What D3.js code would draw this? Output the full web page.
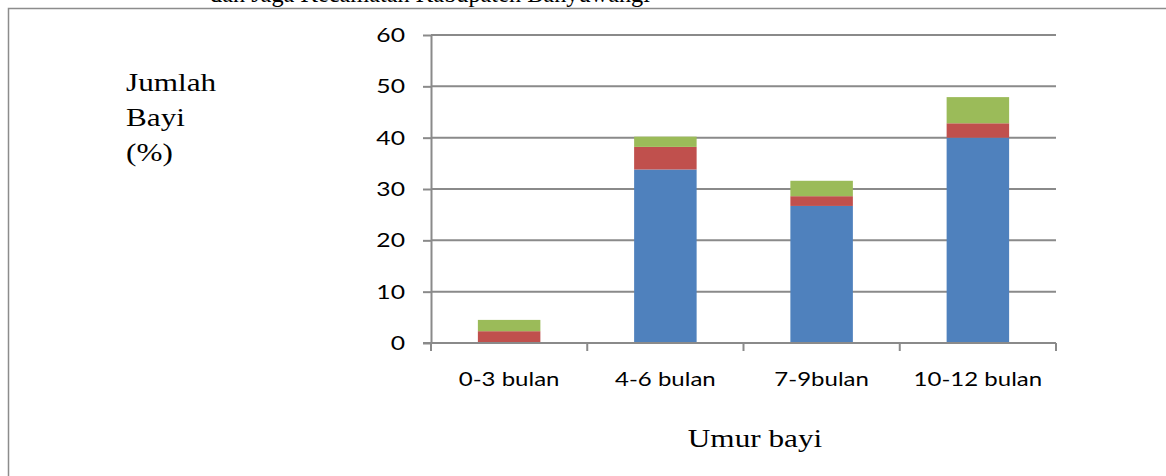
<!DOCTYPE html>
<html>
<head>
<meta charset="utf-8">
<script src="https://cdn.jsdelivr.net/npm/d3@7"></script>
<style>
  body { margin: 0; background: #fff; }
  svg { display: block; }
</style>
</head>
<body>
<script>
// data
const categories = ["0-3 bulan", "4-6 bulan", "7-9bulan", "10-12 bulan"];
const seriesKeys = ["biru", "merah", "hijau"];
const blueValues = [0, 33.8, 26.7, 40.0];
const redValues = [2.3, 4.4, 1.9, 2.8];
const greenValues = [2.2, 2.0, 3.0, 5.1];
const yTicks = [0, 10, 20, 30, 40, 50, 60];
const colors = ["#4F81BD", "#C0504D", "#9BBB59"];

const W = 1166, H = 476;
const svg = d3.select("body").append("svg").attr("width", W).attr("height", H);

// the picture is a bit wider than its fonts: stretch text horizontally
const stretch = (sel, k) => sel.each(function () {
  const w = this.getComputedTextLength();
  d3.select(this).attr("textLength", w * k).attr("lengthAdjust", "spacingAndGlyphs");
});

// clipped line of text from the page above the figure
const clip = svg.append("clipPath").attr("id", "topclip");
clip.append("rect").attr("x", 0).attr("y", 0).attr("width", W).attr("height", 8);
svg.append("text")
   .attr("clip-path", "url(#topclip)")
   .attr("x", 210).attr("y", 2)
   .attr("font-family", "Liberation Serif").attr("font-size", 26)
   .text("dan Jaga Kecamatan Kabupaten Banyuwangi")
   .attr("textLength", 440).attr("lengthAdjust", "spacingAndGlyphs");

// frame
svg.append("path")
   .attr("d", `M${W},8.5 H8.5 V${H}`)
   .attr("fill", "none").attr("stroke", "#8c8c8c").attr("stroke-width", 1.5);

const x = d3.scaleBand().domain(categories).range([431, 1056]).paddingInner(0).paddingOuter(0);
const y = d3.scaleLinear().domain([0, 60]).range([343, 35]);

const rows = categories.map((c, i) => ({cat: c, biru: blueValues[i], merah: redValues[i], hijau: greenValues[i]}));
const stack = d3.stack().keys(seriesKeys)(rows);

const g = svg.append("g");

// gridlines
g.selectAll("line.grid").data(yTicks.filter(t => t > 0)).enter()
 .append("line").attr("class", "grid")
 .attr("x1", 431).attr("x2", 1056)
 .attr("y1", d => y(d)).attr("y2", d => y(d))
 .attr("stroke", "#8a8a8a").attr("stroke-width", 2);

// bars
const barW = x.bandwidth() / 2.5;
g.selectAll("g.layer").data(stack).enter()
 .append("g").attr("class", "layer").attr("fill", (d, i) => colors[i])
 .selectAll("rect").data(d => d).enter()
 .append("rect")
 .attr("x", d => x(d.data.cat) + (x.bandwidth() - barW) / 2)
 .attr("width", barW)
 .attr("y", d => y(d[1]))
 .attr("height", d => y(d[0]) - y(d[1]));

// y axis
const yAxis = d3.axisLeft(y).tickValues(yTicks).tickSize(8).tickSizeOuter(0);
const ya = svg.append("g").attr("transform", "translate(431,0)").call(yAxis);
ya.select(".domain").attr("stroke", "#8a8a8a").attr("stroke-width", 2);
ya.selectAll(".tick line").attr("stroke", "#8a8a8a").attr("stroke-width", 2);
ya.selectAll(".tick text").attr("x", -26).attr("dy", "0.35em")
  .attr("font-family", "Lato").attr("font-size", 19).attr("fill", "#000")
  .call(stretch, 1.3);

// x axis
const xa = svg.append("g").attr("transform", "translate(0,343)");
xa.append("line").attr("x1", 423).attr("x2", 1056).attr("stroke", "#8a8a8a").attr("stroke-width", 2);
const bounds = categories.map(c => x(c)).concat([x.range()[1]]);
xa.selectAll("line.tk").data(bounds).enter()
  .append("line").attr("class", "tk")
  .attr("x1", d => d).attr("x2", d => d).attr("y1", 0).attr("y2", 8)
  .attr("stroke", "#8a8a8a").attr("stroke-width", 2);
xa.selectAll("text").data(categories).enter()
  .append("text")
  .attr("x", d => x(d) + x.bandwidth() / 2).attr("y", 43)
  .attr("text-anchor", "middle")
  .attr("font-family", "Lato").attr("font-size", 20)
  .text(d => d)
  .call(stretch, 1.2);

// axis titles
const yTitle = ["Jumlah", "Bayi", "(%)"];
svg.selectAll("text.yt").data(yTitle).enter()
   .append("text").attr("class", "yt")
   .attr("x", 126).attr("y", (d, i) => 91 + i * 35)
   .attr("font-family", "Liberation Serif").attr("font-size", 26)
   .text(d => d)
   .call(stretch, 1.2);

svg.append("text")
   .attr("x", 755).attr("y", 447).attr("text-anchor", "middle")
   .attr("font-family", "Liberation Serif").attr("font-size", 26)
   .text("Umur bayi")
   .call(stretch, 1.2);
</script>
</body>
</html>
